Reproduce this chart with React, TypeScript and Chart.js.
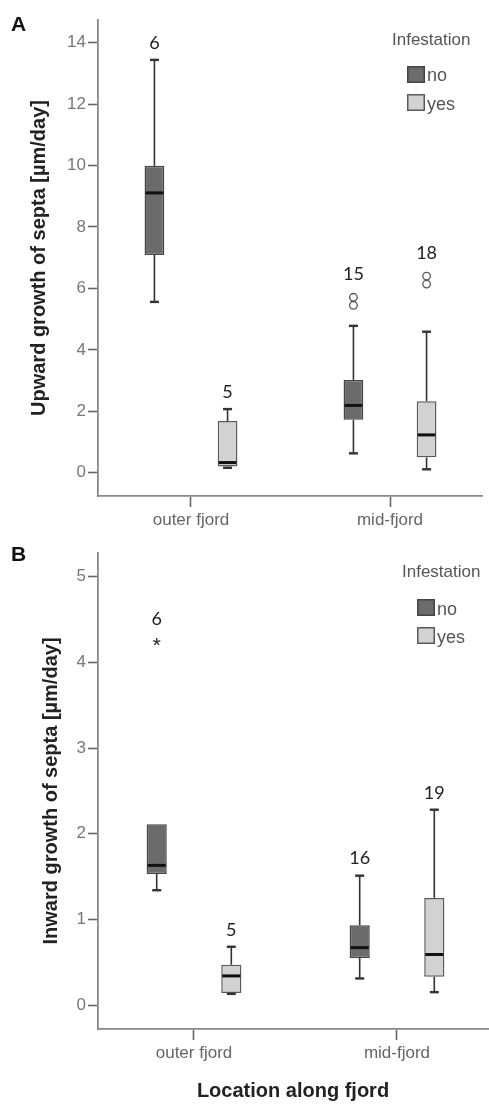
import React, { useEffect, useRef } from 'react';
import { Chart, registerables } from 'chart.js';

Chart.register(...registerables);

// ---------- data ----------
const categories = ['outer fjord', 'mid-fjord'];
const infestationGroups = ['no', 'yes'];

// Panel A: Upward growth of septa [µm/day]
const upwardNoMin = [5.56, 0.63];
const upwardNoQ1 = [7.09, 1.72];
const upwardNoMedian = [9.11, 2.19];
const upwardNoQ3 = [9.99, 3.02];
const upwardNoMax = [13.44, 4.78];
const upwardNoOutliers = [[], [5.71, 5.45]];
const upwardNoExtremes = [[], []];
const upwardNoN = [6, 15];

const upwardYesMin = [0.16, 0.11];
const upwardYesQ1 = [0.2, 0.5];
const upwardYesMedian = [0.33, 1.23];
const upwardYesQ3 = [1.68, 2.33];
const upwardYesMax = [2.07, 4.59];
const upwardYesOutliers = [[], [6.4, 6.14]];
const upwardYesExtremes = [[], []];
const upwardYesN = [5, 18];

const upwardTicks = [0, 2, 4, 6, 8, 10, 12, 14];

// Panel B: Inward growth of septa [µm/day]
const inwardNoMin = [1.34, 0.31];
const inwardNoQ1 = [1.53, 0.55];
const inwardNoMedian = [1.63, 0.67];
const inwardNoQ3 = [2.11, 0.93];
const inwardNoMax = [2.11, 1.51];
const inwardNoOutliers = [[], []];
const inwardNoExtremes = [[4.24], []];
const inwardNoN = [6, 16];

const inwardYesMin = [0.13, 0.15];
const inwardYesQ1 = [0.14, 0.33];
const inwardYesMedian = [0.34, 0.59];
const inwardYesQ3 = [0.47, 1.25];
const inwardYesMax = [0.68, 2.28];
const inwardYesOutliers = [[], []];
const inwardYesExtremes = [[], []];
const inwardYesN = [5, 19];

const inwardTicks = [0, 1, 2, 3, 4, 5];

// ---------- styling ----------
const groupFill = ['#6b6b6b', '#d2d2d2'];
const groupBorder = ['#454545', '#5a5a5a'];
const SANS = "'Liberation Sans', Arial, sans-serif";
const LABEL_FONT = "Lato, 'Open Sans', sans-serif";

type Stats = {
  min: number[];
  q1: number[];
  median: number[];
  q3: number[];
  max: number[];
  outliers: number[][];
  extremes: number[][];
  n: number[];
};

type PanelCfg = {
  height: number;
  top: number;
  padTop: number;
  padRight: number;
  xHeight: number;
  yMin: number;
  yMax: number;
  xMin: number;
  xMax: number;
  ticks: number[];
  yTitle: string;
  yTitlePad: number;
  xTitle: string | null;
  stats: Stats[];
  letter: string;
  letterY: number;
  legend: { titleX: number; titleY: number; boxX: number; boxY: number[]; textY: number[] };
};

const panels: PanelCfg[] = [
  {
    height: 535,
    top: 0,
    padTop: 20,
    padRight: 7,
    xHeight: 39,
    yMin: -0.759,
    yMax: 14.739,
    xMin: 0.5327,
    xMax: 2.4623,
    ticks: upwardTicks,
    yTitle: 'Upward growth of septa [µm/day]',
    yTitlePad: 27,
    xTitle: null,
    stats: [
      { min: upwardNoMin, q1: upwardNoQ1, median: upwardNoMedian, q3: upwardNoQ3, max: upwardNoMax, outliers: upwardNoOutliers, extremes: upwardNoExtremes, n: upwardNoN },
      { min: upwardYesMin, q1: upwardYesQ1, median: upwardYesMedian, q3: upwardYesQ3, max: upwardYesMax, outliers: upwardYesOutliers, extremes: upwardYesExtremes, n: upwardYesN },
    ],
    letter: 'A',
    letterY: 25,
    legend: { titleX: 392, titleY: 40, boxX: 407, boxY: [66, 94], textY: [76, 105] },
  },
  {
    height: 569,
    top: 535,
    padTop: 18,
    padRight: 1,
    xHeight: 75,
    yMin: -0.28,
    yMax: 5.277,
    xMin: 0.5271,
    xMax: 2.4483,
    ticks: inwardTicks,
    yTitle: 'Inward growth of septa [µm/day]',
    yTitlePad: 39,
    xTitle: 'Location along fjord',
    stats: [
      { min: inwardNoMin, q1: inwardNoQ1, median: inwardNoMedian, q3: inwardNoQ3, max: inwardNoMax, outliers: inwardNoOutliers, extremes: inwardNoExtremes, n: inwardNoN },
      { min: inwardYesMin, q1: inwardYesQ1, median: inwardYesMedian, q3: inwardYesQ3, max: inwardYesMax, outliers: inwardYesOutliers, extremes: inwardYesExtremes, n: inwardYesN },
    ],
    letter: 'B',
    letterY: 20,
    legend: { titleX: 402, titleY: 37, boxX: 417, boxY: [64, 92], textY: [75, 103] },
  },
];

function makePlugin(cfg: PanelCfg) {
  return {
    id: 'boxWhiskers',
    afterDatasetsDraw(chart: any) {
      const ctx = chart.ctx as CanvasRenderingContext2D;
      const y = chart.scales.y;
      cfg.stats.forEach((s, d) => {
        const meta = chart.getDatasetMeta(d);
        meta.data.forEach((bar: any, i: number) => {
          const { x, width } = bar.getProps(['x', 'width'], true);
          const pQ1 = y.getPixelForValue(s.q1[i]);
          const pQ3 = y.getPixelForValue(s.q3[i]);
          const pMin = y.getPixelForValue(s.min[i]);
          const pMax = y.getPixelForValue(s.max[i]);
          const pMed = y.getPixelForValue(s.median[i]);
          ctx.save();
          ctx.strokeStyle = '#333';
          ctx.lineCap = 'butt';
          ctx.lineWidth = 1.6;
          if (s.max[i] > s.q3[i]) {
            ctx.beginPath();
            ctx.moveTo(x, pQ3);
            ctx.lineTo(x, pMax);
            ctx.stroke();
            ctx.lineWidth = 2.4;
            ctx.beginPath();
            ctx.moveTo(x - 4.5, pMax);
            ctx.lineTo(x + 4.5, pMax);
            ctx.stroke();
          }
          ctx.lineWidth = 1.6;
          if (s.min[i] < s.q1[i]) {
            ctx.beginPath();
            ctx.moveTo(x, pQ1);
            ctx.lineTo(x, pMin);
            ctx.stroke();
            ctx.lineWidth = 2.4;
            ctx.beginPath();
            ctx.moveTo(x - 4.5, pMin);
            ctx.lineTo(x + 4.5, pMin);
            ctx.stroke();
          }
          ctx.strokeStyle = '#111';
          ctx.lineWidth = 3;
          ctx.beginPath();
          ctx.moveTo(x - width / 2 + 1, pMed);
          ctx.lineTo(x + width / 2 - 1, pMed);
          ctx.stroke();
          ctx.strokeStyle = '#555';
          ctx.lineWidth = 1.3;
          s.outliers[i].forEach((v) => {
            const py = y.getPixelForValue(v);
            ctx.beginPath();
            ctx.arc(x, py, 3.8, 0, Math.PI * 2);
            ctx.stroke();
          });
          ctx.strokeStyle = '#333';
          ctx.lineWidth = 1.4;
          s.extremes[i].forEach((v) => {
            const py = y.getPixelForValue(v);
            for (let k = 0; k < 5; k++) {
              const a = -Math.PI / 2 + (k * 2 * Math.PI) / 5;
              ctx.beginPath();
              ctx.moveTo(x, py);
              ctx.lineTo(x + Math.cos(a) * 3.8, py + Math.sin(a) * 3.8);
              ctx.stroke();
            }
          });
          const extra = [...s.outliers[i], ...s.extremes[i]];
          let topVal = s.max[i];
          let off = 17;
          if (extra.length) {
            topVal = Math.max(...extra);
            off = 23;
          }
          const pTop = y.getPixelForValue(topVal);
          ctx.fillStyle = '#222';
          ctx.font = `18px ${LABEL_FONT}`;
          ctx.textAlign = 'center';
          ctx.textBaseline = 'middle';
          ctx.fillText(String(s.n[i]), x, pTop - off);
          ctx.restore();
        });
      });
    },
    afterDraw(chart: any) {
      const ctx = chart.ctx as CanvasRenderingContext2D;
      const L = cfg.legend;
      ctx.save();
      ctx.fillStyle = '#111';
      ctx.font = `bold 21px ${SANS}`;
      ctx.textAlign = 'left';
      ctx.textBaseline = 'middle';
      ctx.fillText(cfg.letter, 11, cfg.letterY);
      ctx.fillStyle = '#555';
      ctx.font = `17px ${SANS}`;
      ctx.fillText('Infestation', L.titleX, L.titleY);
      infestationGroups.forEach((g, k) => {
        ctx.fillStyle = groupFill[k];
        ctx.fillRect(L.boxX, L.boxY[k], 18, 17);
        ctx.strokeStyle = groupBorder[k];
        ctx.lineWidth = 1.5;
        ctx.strokeRect(L.boxX + 0.75, L.boxY[k] + 0.75, 16.5, 15.5);
        ctx.fillStyle = '#555';
        ctx.font = `18px ${SANS}`;
        ctx.fillText(g, L.boxX + 20, L.textY[k]);
      });
      ctx.restore();
    },
  };
}

function Panel({ cfg }: { cfg: PanelCfg }) {
  const ref = useRef<HTMLCanvasElement | null>(null);
  useEffect(() => {
    if (!ref.current) return;
    const datasets = cfg.stats.map((s, d) => ({
      label: infestationGroups[d],
      data: categories.map((_, i) => ({ x: i + 1, y: [s.q1[i], s.q3[i]] })),
      backgroundColor: groupFill[d],
      borderColor: groupBorder[d],
      borderWidth: 1.5,
      borderSkipped: false,
      categoryPercentage: 0.735,
      barPercentage: 0.27,
    }));
    const chart = new Chart(ref.current, {
      type: 'bar',
      data: { datasets } as any,
      options: {
        animation: false,
        responsive: false,
        devicePixelRatio: 1,
        layout: { padding: { top: cfg.padTop, right: cfg.padRight, left: 0, bottom: 0 } },
        plugins: { legend: { display: false }, tooltip: { enabled: false } },
        scales: {
          x: {
            type: 'linear',
            offset: false,
            min: cfg.xMin,
            max: cfg.xMax,
            afterBuildTicks: (s: any) => {
              s.ticks = categories.map((_, i) => ({ value: i + 1 }));
            },
            afterFit: (s: any) => {
              s.height = cfg.xHeight;
            },
            ticks: {
              callback: (v: any) => categories[Math.round(Number(v)) - 1] ?? '',
              color: '#666',
              font: { family: SANS, size: 17 },
              padding: 3,
              maxRotation: 0,
              autoSkip: false,
            },
            grid: {
              display: true,
              offset: false,
              drawOnChartArea: false,
              drawTicks: true,
              tickLength: 11,
              tickColor: '#666',
              tickWidth: 1.6,
            },
            border: { display: true, color: '#888', width: 1.8 },
            title: cfg.xTitle
              ? {
                  display: true,
                  text: cfg.xTitle,
                  color: '#222',
                  font: { family: SANS, size: 20, weight: 'bold' },
                  padding: { top: 0, bottom: 1 },
                }
              : { display: false },
          },
          y: {
            type: 'linear',
            min: cfg.yMin,
            max: cfg.yMax,
            afterBuildTicks: (s: any) => {
              s.ticks = cfg.ticks.map((v) => ({ value: v }));
            },
            afterFit: (s: any) => {
              s.width = 98;
            },
            ticks: {
              color: '#777',
              font: { family: SANS, size: 17 },
              padding: 2,
            },
            grid: {
              display: true,
              drawOnChartArea: false,
              drawTicks: true,
              tickLength: 10,
              tickColor: '#666',
              tickWidth: 1.6,
            },
            border: { display: true, color: '#888', width: 1.8 },
            title: {
              display: true,
              text: cfg.yTitle,
              color: '#222',
              font: { family: SANS, size: 20, weight: 'bold' },
              padding: { top: cfg.yTitlePad, bottom: 0 },
            },
          },
        },
      } as any,
      plugins: [makePlugin(cfg)],
    });
    return () => chart.destroy();
  }, [cfg]);
  return (
    <canvas
      ref={ref}
      width={489}
      height={cfg.height}
      style={{ position: 'absolute', left: 0, top: cfg.top, width: 489, height: cfg.height, display: 'block' }}
    />
  );
}

export default function App() {
  return (
    <div style={{ position: 'absolute', left: 0, top: 0, width: 489, height: 1104, background: '#fff' }}>
      {panels.map((p, i) => (
        <Panel key={i} cfg={p} />
      ))}
    </div>
  );
}
